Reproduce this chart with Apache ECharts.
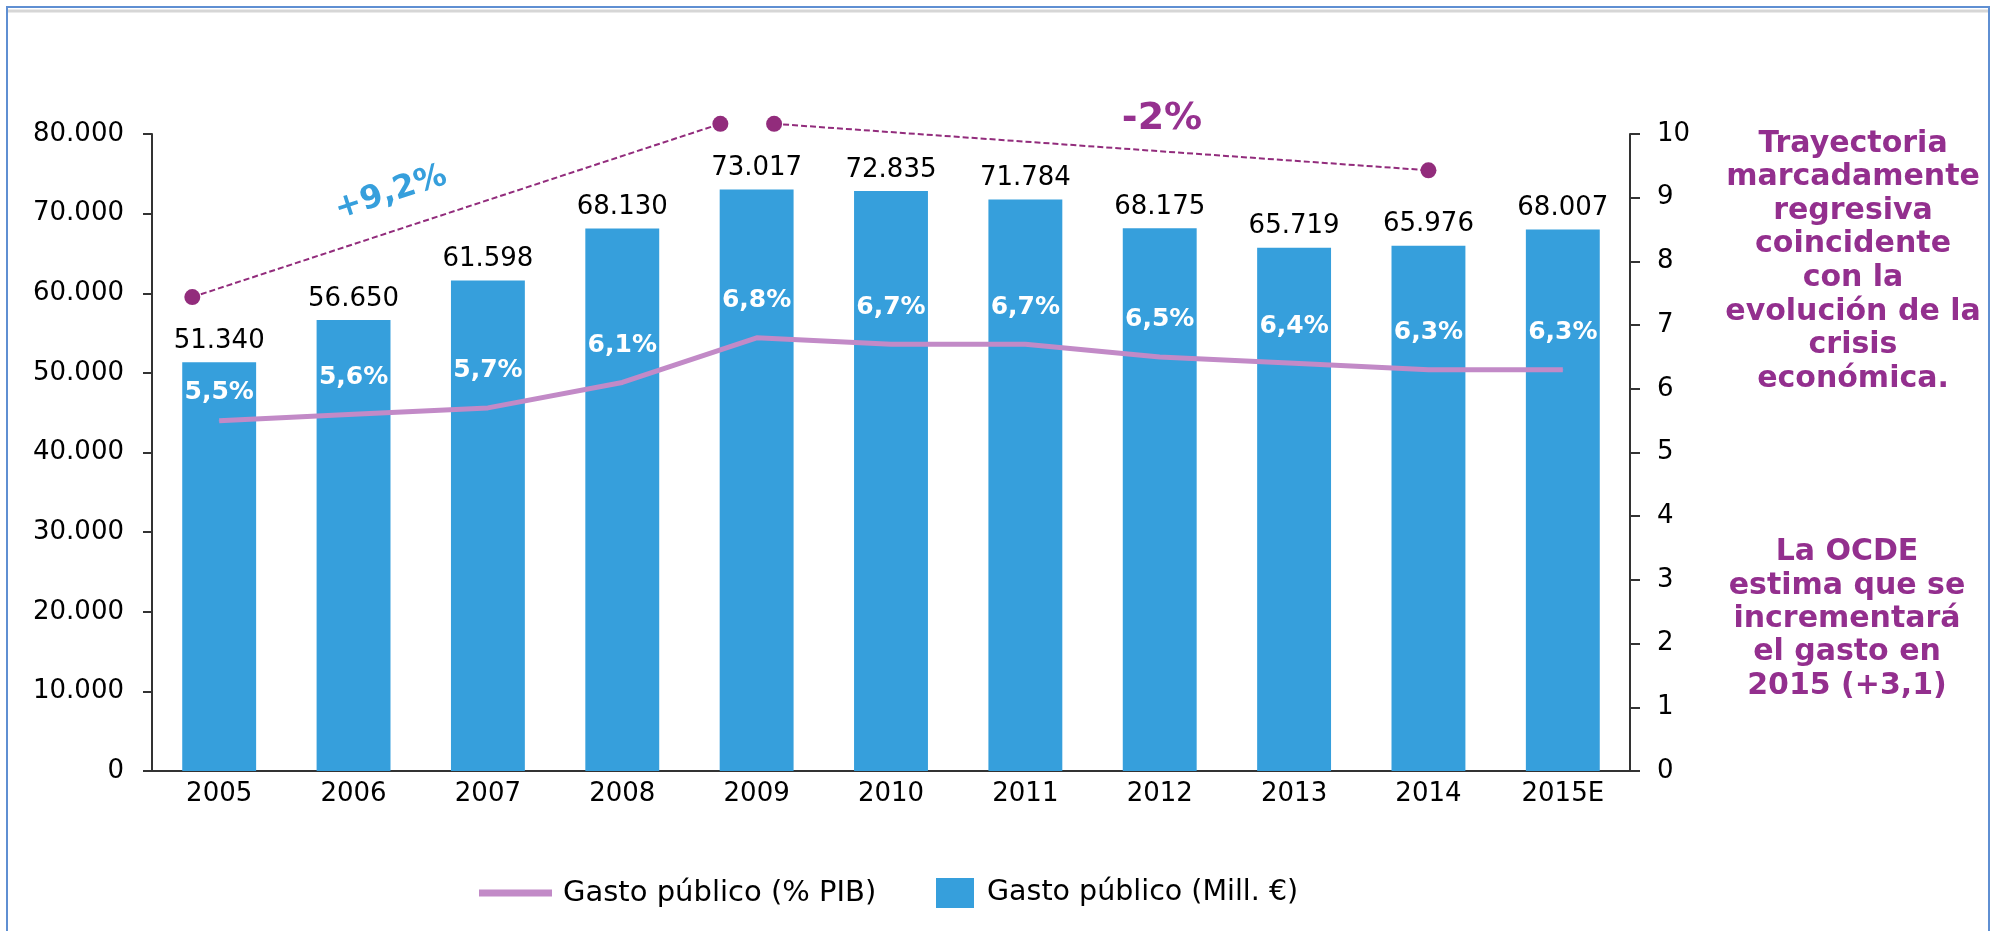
<!DOCTYPE html>
<html>
<head>
<meta charset="utf-8">
<script src="https://cdn.jsdelivr.net/npm/echarts@6/dist/echarts.min.js"></script>
<style>
html, body { margin: 0; padding: 0; background: #fff; }
#chart { width: 1993px; height: 931px; }
</style>
</head>
<body>
<div id="chart"></div>
<script>
var years = ['2005', '2006', '2007', '2008', '2009', '2010', '2011', '2012', '2013', '2014', '2015E'];
var gastoMill = [51340, 56650, 61598, 68130, 73017, 72835, 71784, 68175, 65719, 65976, 68007];
var gastoPib = [5.5, 5.6, 5.7, 6.1, 6.8, 6.7, 6.7, 6.5, 6.4, 6.3, 6.3];

// tramos de tendencia: [indice de categoria, valor eje derecho]
var tramoSubida = [[-0.2, 7.44], [3.73, 10.16]];
var tramoBajada = [[4.13, 10.16], [9.0, 9.43]];

var notaCrisis = ['Trayectoria', 'marcadamente', 'regresiva', 'coincidente', 'con la', 'evolución de la', 'crisis', 'económica.'];
var notaOcde = ['La OCDE', 'estima que se', 'incrementará', 'el gasto en', '2015 (+3,1)'];

var FONT = '"DejaVu Sans", Verdana, sans-serif';
var azul = '#369fdc';
var lila = '#c28ac7';
var morado = '#932f8e';
var puntos = '#922c7c';

function miles(v) {
    return String(v).replace(/\B(?=(\d{3})+(?!\d))/g, '.');
}
function pct(v) {
    return v.toFixed(1).replace('.', ',') + '%';
}

var chart = echarts.init(document.getElementById('chart'));

var pibData = [];
for (var i = 0; i < gastoPib.length; i++) {
    if (i === 0) {
        pibData.push({ value: gastoPib[i], label: { distance: 15 } });
    } else {
        pibData.push(gastoPib[i]);
    }
}

var option = {
    animation: false,
    backgroundColor: '#fff',
    textStyle: { fontFamily: FONT },
    grid: { left: 152, right: 363, top: 134, bottom: 160, containLabel: false },
    legend: [
        {
            data: [{ name: 'Gasto público (% PIB)', icon: 'rect' }],
            left: 474, top: 873,
            itemWidth: 73, itemHeight: 7,
            selectedMode: false,
            textStyle: { fontSize: 29, color: '#000', fontFamily: FONT, lineHeight: 30, padding: [0, 0, 0, 6] }
        },
        {
            data: [{ name: 'Gasto público (Mill. €)', icon: 'rect' }],
            left: 931, top: 873,
            itemWidth: 38, itemHeight: 30,
            selectedMode: false,
            textStyle: { fontSize: 28.5, color: '#000', fontFamily: FONT, lineHeight: 30, padding: [0, 0, 0, 8] }
        }
    ],
    xAxis: [
        {
            type: 'category',
            data: years,
            axisLine: { onZero: false, lineStyle: { color: '#333', width: 2 } },
            axisTick: { show: false },
            axisLabel: { color: '#000', fontSize: 26, fontFamily: FONT, margin: 10 }
        },
        {
            type: 'value',
            show: false,
            min: -0.5,
            max: 10.5
        }
    ],
    yAxis: [
        {
            type: 'value',
            min: 0, max: 80000, interval: 10000,
            splitLine: { show: false },
            axisLine: { show: true, onZero: false, lineStyle: { color: '#333', width: 2 } },
            axisTick: { show: true, length: 9, lineStyle: { color: '#333', width: 2 } },
            axisLabel: { color: '#000', fontSize: 26, fontFamily: FONT, margin: 28, formatter: miles }
        },
        {
            type: 'value',
            min: 0, max: 10, interval: 1,
            position: 'right',
            splitLine: { show: false },
            axisLine: { show: true, onZero: false, lineStyle: { color: '#333', width: 2 } },
            axisTick: { show: true, length: 10, lineStyle: { color: '#333', width: 2 } },
            axisLabel: { color: '#000', fontSize: 26, fontFamily: FONT, margin: 27 }
        }
    ],
    series: [
        {
            name: 'Gasto público (Mill. €)',
            type: 'bar',
            data: gastoMill,
            barWidth: '55%',
            itemStyle: { color: azul },
            label: {
                show: true, position: 'top', distance: 8,
                color: '#000', fontSize: 26, fontFamily: FONT,
                formatter: function (p) { return miles(p.value); }
            }
        },
        {
            name: 'Gasto público (% PIB)',
            type: 'line',
            yAxisIndex: 1,
            data: pibData,
            symbol: 'circle',
            symbolSize: 1,
            itemStyle: { color: lila },
            lineStyle: { color: lila, width: 5 },
            z: 3,
            label: {
                show: true, position: 'top', distance: 24,
                color: '#fff', fontSize: 25, fontWeight: 'bold', fontFamily: FONT,
                formatter: function (p) { return pct(p.value); }
            }
        },
        {
            name: 'subida',
            type: 'line',
            xAxisIndex: 1,
            yAxisIndex: 1,
            data: tramoSubida,
            clip: false,
            silent: true,
            symbol: 'circle',
            symbolSize: 16,
            itemStyle: { color: puntos },
            lineStyle: { color: puntos, width: 2, type: [6, 3] },
            z: 4
        },
        {
            name: 'bajada',
            type: 'line',
            xAxisIndex: 1,
            yAxisIndex: 1,
            data: tramoBajada,
            clip: false,
            silent: true,
            symbol: 'circle',
            symbolSize: 16,
            itemStyle: { color: puntos },
            lineStyle: { color: puntos, width: 2, type: [6, 3] },
            z: 4
        }
    ],
    graphic: [
        {
            type: 'rect',
            shape: { x: 7, y: 7, width: 1982, height: 960 },
            style: { fill: null, stroke: '#5f8fd2', lineWidth: 2 },
            silent: true
        },
        {
            type: 'line',
            shape: { x1: 8, y1: 11, x2: 1988, y2: 11 },
            style: { stroke: '#d6d6d6', lineWidth: 3 },
            silent: true
        },
        {
            type: 'text',
            x: 391, y: 193,
            rotation: 18 * Math.PI / 180,
            style: { text: '+9,2%', fill: azul, font: 'bold 32px ' + FONT, textAlign: 'center', textVerticalAlign: 'middle' },
            silent: true
        },
        {
            type: 'text',
            x: 1162, y: 119,
            style: { text: '-2%', fill: '#96318f', font: 'bold 38px ' + FONT, textAlign: 'center', textVerticalAlign: 'middle' },
            silent: true
        },
        {
            type: 'text',
            x: 1853, y: 127,
            style: { text: notaCrisis.join('\n'), fill: morado, font: 'bold 30px ' + FONT, lineHeight: 33.6, textAlign: 'center', textVerticalAlign: 'top' },
            silent: true
        },
        {
            type: 'text',
            x: 1847, y: 536,
            style: { text: notaOcde.join('\n'), fill: morado, font: 'bold 30px ' + FONT, lineHeight: 33.3, textAlign: 'center', textVerticalAlign: 'top' },
            silent: true
        }
    ]
};

chart.setOption(option);
</script>
</body>
</html>
